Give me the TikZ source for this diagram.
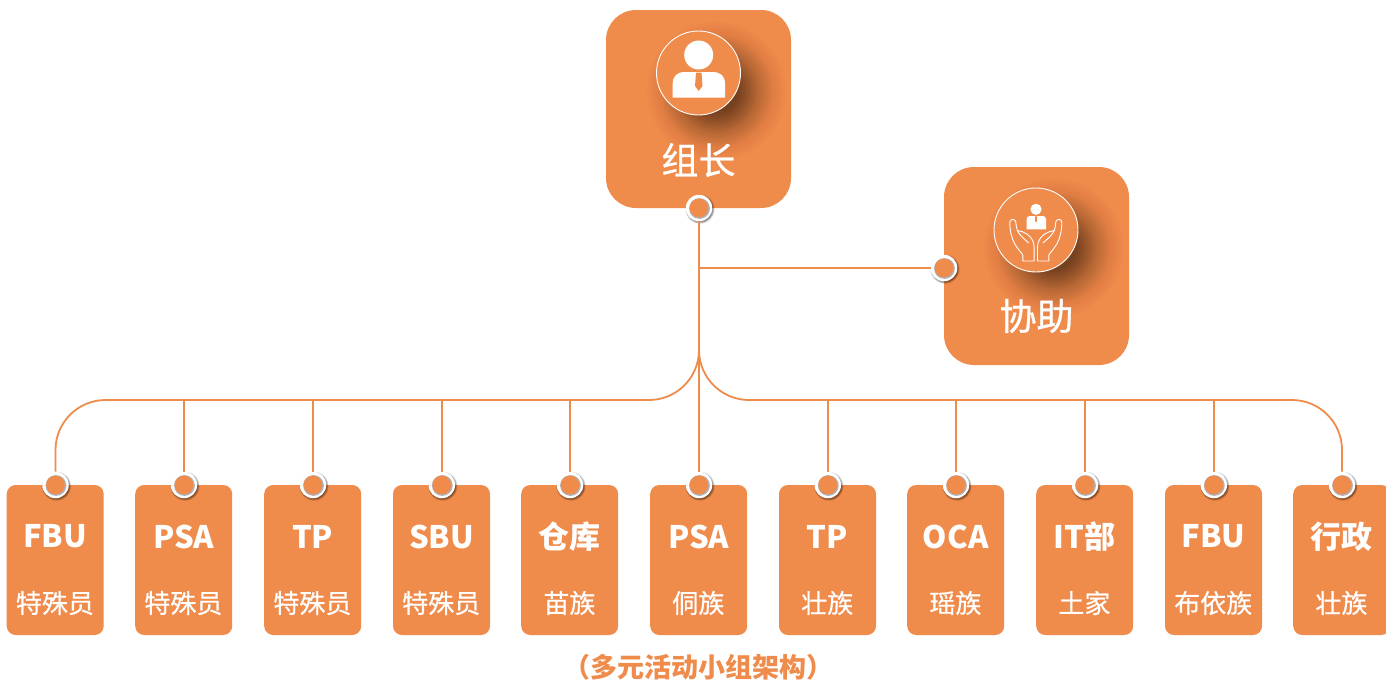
\documentclass[tikz,border=0pt]{standalone}
\usepackage{fontspec}
\setmainfont{Noto Sans CJK SC}
\newfontfamily\bigfont[FakeBold=0.8]{Noto Sans CJK SC}
\newfontfamily\subfont[FakeBold=0.6]{Noto Sans CJK SC}
\usetikzlibrary{calc}
\definecolor{org}{HTML}{EF8B4B}
\definecolor{rim}{HTML}{AEB2BA}
\tikzset{
  conn/.style={draw=org,line width=1.8pt},
  bigbox/.style={fill=org,rounded corners=30pt,minimum width=185pt,minimum height=198pt,inner sep=0pt},
  card/.style={fill=org,rounded corners=9pt,minimum width=97pt,minimum height=150pt,inner sep=0pt},
  pinnode/.style={circle,fill=white,minimum size=26.5pt,inner sep=0pt},
  badge/.style={circle,draw=white,line width=0.9pt,minimum size=84pt,inner sep=0pt,fill=org},
  bigtxt/.style={text=white,font=\fontsize{37}{37}\bigfont,inner sep=0pt},
  captop/.style={text=white,font=\fontsize{31}{31}\selectfont\bfseries,inner sep=0pt},
  capsub/.style={text=white,font=\fontsize{26}{26}\subfont,inner sep=0pt},
  ttl/.style={text=org,font=\fontsize{27}{27}\selectfont\bfseries,inner sep=0pt}
}
\newcommand{\softshadow}[2]{%
  \foreach \r in {70,68,...,58}{\fill[black,opacity=0.008] (#1+18,#2+18) circle[radius=\r];}
  \foreach \r in {56,54,...,42}{\fill[black,opacity=0.022] (#1+18,#2+18) circle[radius=\r];}
  \foreach \r in {40,38,...,22}{\fill[black,opacity=0.038] (#1+18,#2+18) circle[radius=\r];}}
\newcommand{\pinshadow}[2]{%
  \foreach \r in {14.5,14,13.5,13}{\fill[black,opacity=0.13] (#1+1,#2+1.2) circle[radius=\r];}}
\newcommand{\pindot}[2]{%
  \fill[rim] (#1+0.5,#2+0.5) circle[radius=10.4];
  \fill[org] (#1,#2) circle[radius=9.4];}
\begin{document}
\begin{tikzpicture}[x=1pt,y=-1pt]
\useasboundingbox (0,0) rectangle (1386,680);
% boxes
\node[bigbox] (lead) at (698.5,109) {};
\node[bigbox] (help) at (1036.5,266) {};
\softshadow{698.5}{73}
\softshadow{1036}{230}
\node[badge] (leadbadge) at (698.5,73) {};
\node[badge] (helpbadge) at (1036,230) {};
\node[bigtxt] (leadtxt) at (698.5,160) {组长};
\node[bigtxt] (helptxt) at (1036.5,316) {协助};
% person icon
\fill[white] (698.7,55) circle[radius=14.5];
\fill[white] (672.7,97.7) -- (672.7,84) .. controls (672.7,76) and (677,72) .. (685,72)
  -- (712,72) .. controls (721,72) and (725,76) .. (725,84) -- (725,97.7) -- cycle;
\fill[org] (696,72.5) -- (701.5,72.5) -- (702.5,86) -- (698.7,91) -- (695,86) -- cycle;
% helper icon
\fill[white] (1036,209.3) circle[radius=5.6];
\fill[white] (1026.7,229.4) -- (1026.7,219) .. controls (1026.7,217) and (1028,216) .. (1030,216)
  -- (1042.5,216) .. controls (1044.5,216) and (1046,217) .. (1046,219) -- (1046,229.4) -- cycle;
\fill[org] (1035.3,216) -- (1036.8,216) -- (1037,221) -- (1036,222.5) -- (1035,221) -- cycle;
\foreach \s in {1,-1}{
  \begin{scope}[shift={(1035.8,0)},xscale=\s]
  \draw[white,line width=0.9pt,line join=round]
    (-1.7,261) -- (-1.7,247) .. controls (-1.7,241) and (-5,236.5) .. (-9,234)
    .. controls (-12,232) and (-15,231) .. (-18.5,230.5)
    .. controls (-19.5,227) and (-19.8,225) .. (-20,222)
    .. controls (-20.5,218.5) and (-25.5,218.5) .. (-26,222)
    .. controls (-26,230) and (-24.5,238) .. (-21,244)
    .. controls (-18,249) and (-15,252) .. (-13,255) -- (-13,261) -- cycle
    (-18.5,230.5) .. controls (-17,234) and (-13,238) .. (-7,243);
  \end{scope}}
% cards and pins
\foreach \n/\x/\a/\b in {1/55.5/FBU/特殊员,2/184/PSA/特殊员,3/313/TP/特殊员,4/441.8/SBU/特殊员,5/570/仓库/苗族,6/699/PSA/侗族,7/827.8/TP/壮族,8/956/OCA/瑶族,9/1085/IT部/土家,10/1213.8/FBU/布依族,11/1342/行政/壮族}{
  \node[card] (card\n) at (\x-0.3,560) {};
  \node[captop] (top\n) at (\x-0.3,536.5) {\a};
  \node[capsub] (sub\n) at (\x-0.6,603) {\b};
  \pinshadow{\x}{485}
  \node[pinnode] (pin\n) at (\x,485) {};
  \pindot{\x}{485}
}
\pinshadow{699}{208}
\node[pinnode] (pinlead) at (699,208) {};
\pindot{699}{208}
\pinshadow{944}{268}
\node[pinnode] (pinhelp) at (944,268) {};
\pindot{944}{268}
\coordinate (bus) at (0,400);
% connectors
\draw[conn] (pinlead.south) -- (pin6.north);
\draw[conn] (pinhelp.west) -- (pinhelp.west -| pinlead.south);
\draw[conn,rounded corners=50pt] (pinlead.south) -- (pinlead.south |- bus) -- (pin1.center |- bus) -- (pin1.north);
\draw[conn,rounded corners=50pt] (pinlead.south) -- (pinlead.south |- bus) -- (pin11.center |- bus) -- (pin11.north);
\foreach \n in {2,3,4,5,7,8,9,10}{
  \draw[conn] (pin\n.center |- bus) -- (pin\n.north);
}
\node[ttl] (title) at (698.5,667) {（多元活动小组架构）};
\end{tikzpicture}
\end{document}
